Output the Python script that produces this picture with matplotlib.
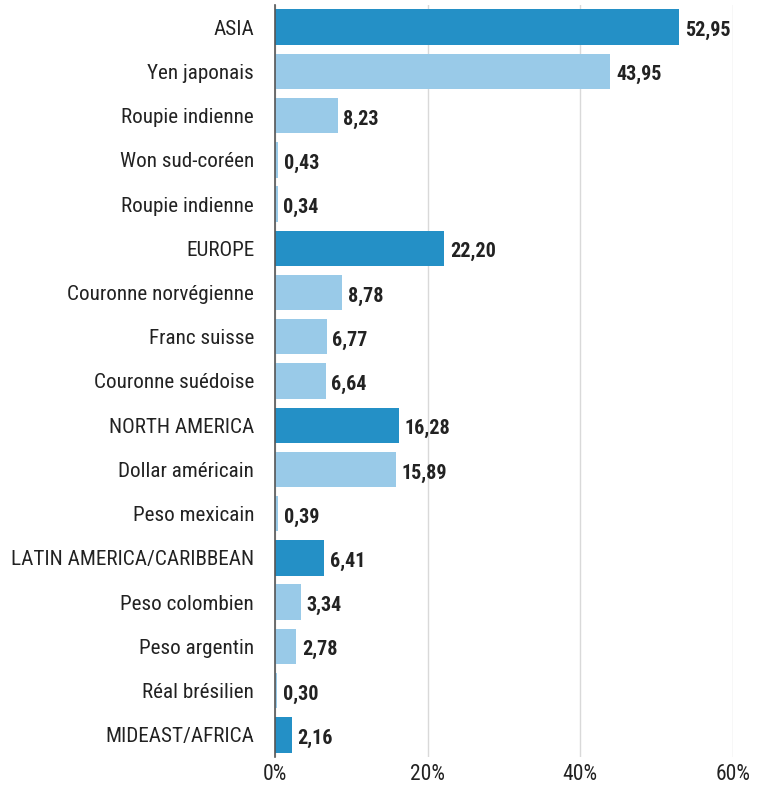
import matplotlib
matplotlib.use("Agg")
from matplotlib import pyplot as plt
from matplotlib import font_manager

# noms des lignes et valeurs (en %)
labels = ["ASIA", "Yen japonais", "Roupie indienne", "Won sud-coréen", "Roupie indienne",
          "EUROPE", "Couronne norvégienne", "Franc suisse", "Couronne suédoise",
          "NORTH AMERICA", "Dollar américain", "Peso mexicain",
          "LATIN AMERICA/CARIBBEAN", "Peso colombien", "Peso argentin", "Réal brésilien",
          "MIDEAST/AFRICA"]
values = [52.95, 43.95, 8.23, 0.43, 0.34,
          22.20, 8.78, 6.77, 6.64,
          16.28, 15.89, 0.39,
          6.41, 3.34, 2.78, 0.30,
          2.16]
is_region = [True, False, False, False, False,
             True, False, False, False,
             True, False, False,
             True, False, False, False,
             True]
xticks = [0, 20, 40, 60]

# police étroite (regular + bold) si elle existe
fonts = font_manager.fontManager.ttflist
regular_file = None
bold_file = None
for name in ["Liberation Sans Narrow", "Roboto Condensed", "Open Sans Condensed"]:
    reg = [f for f in fonts if f.name == name and f.style == "normal"
           and f.weight in (400, "normal", "regular")]
    bld = [f for f in fonts if f.name == name and f.style == "normal"
           and f.weight in (700, "bold")]
    if reg:
        regular_file = reg[0].fname
        bold_file = bld[0].fname if bld else None
        break
if regular_file is None:
    for f in fonts:
        if ("Narrow" in f.name or "Condensed" in f.name) and f.style == "normal":
            regular_file = f.fname
            break

if regular_file:
    fp_reg = font_manager.FontProperties(fname=regular_file)
else:
    fp_reg = font_manager.FontProperties(family="Liberation Sans")
if bold_file:
    fp_bold = font_manager.FontProperties(fname=bold_file)
elif regular_file:
    fp_bold = font_manager.FontProperties(fname=regular_file, weight="bold")
else:
    fp_bold = font_manager.FontProperties(family="Liberation Sans", weight="bold")

dark = "#2490c6"
light = "#99cae8"

fig = plt.figure(figsize=(7.64, 7.85), dpi=100)
ax = fig.add_axes([0.36, 0.0357, 0.5994, 0.9579])

ys = list(range(len(labels)))
colors = [dark if r else light for r in is_region]
ax.barh(ys, values, height=0.8, color=colors, zorder=3)

# étiquettes de valeur
for y, v in zip(ys, values):
    ax.annotate(f"{v:.2f}".replace(".", ","), xy=(v, y), xytext=(4, -2.5),
                textcoords="offset points", va="center", ha="left",
                fontproperties=fp_bold, fontsize=14.5, color="#222222")

ax.set_ylim(len(labels) - 0.5, -0.5)
ax.set_xlim(0, 60)
ax.set_yticks(ys)
ax.set_yticklabels(labels, fontproperties=fp_reg, fontsize=15.2, color="#222222")
ax.set_xticks(xticks)
ax.set_xticklabels([f"{t}%" for t in xticks], fontproperties=fp_reg, fontsize=15.5,
                   color="#222222")
ax.tick_params(axis="both", length=0)
ax.tick_params(axis="y", pad=15)
ax.tick_params(axis="x", pad=5)

ax.xaxis.grid(True, color="#d9d9d9", linewidth=1, zorder=0)
for side in ["top", "right", "bottom"]:
    ax.spines[side].set_visible(False)
ax.spines["left"].set_color("#555555")
ax.spines["left"].set_linewidth(1.2)
ax.spines["left"].set_zorder(4)

fig.savefig("out.png", dpi=100)
